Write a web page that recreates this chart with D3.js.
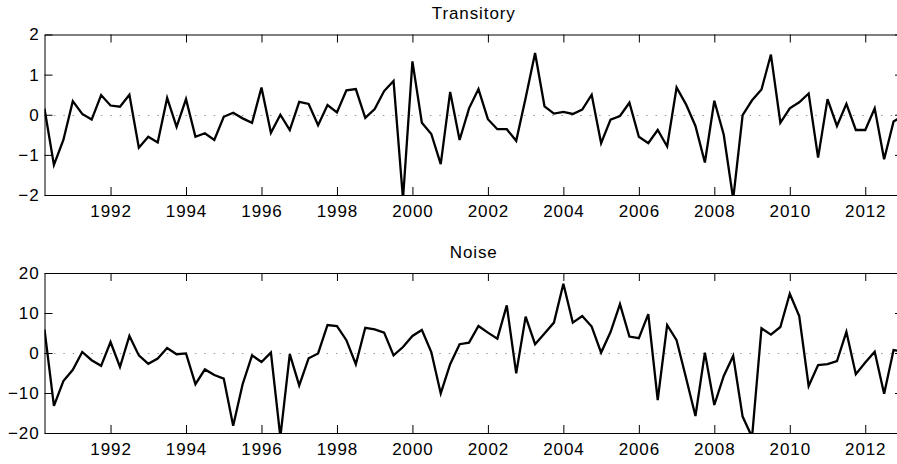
<!DOCTYPE html>
<html>
<head>
<meta charset="utf-8">
<script src="https://cdn.jsdelivr.net/npm/d3@7"></script>
<style>
  body { margin: 0; background: #fff; overflow: hidden; }
  svg { display: block; font-family: 'Liberation Sans', Arial, Helvetica, sans-serif; }
</style>
</head>
<body>
<div id="chart"></div>
<script>
// quarterly series, first point 1990Q2 (1990.25)
const startYear = 1990.25;
const endYear = 2013;

const transitory = [
    0.15, -1.25, -0.63,
    0.34, 0.02, -0.12, 0.49,
    0.23, 0.20, 0.50, -0.82,
    -0.55, -0.69, 0.42, -0.30,
    0.39, -0.55, -0.46, -0.63,
    -0.05, 0.05, -0.09, -0.20,
    0.68, -0.45, 0.00, -0.38,
    0.32, 0.27, -0.26, 0.24,
    0.06, 0.61, 0.64, -0.08,
    0.14, 0.59, 0.84, -2.10,
    1.33, -0.20, -0.48, -1.23,
    0.57, -0.63, 0.16, 0.64,
    -0.11, -0.36, -0.36, -0.65,
    0.42, 1.54, 0.21, 0.03,
    0.07, 0.02, 0.13, 0.50,
    -0.71, -0.12, -0.03, 0.30,
    -0.55, -0.71, -0.38, -0.79,
    0.68, 0.26, -0.28, -1.19,
    0.35, -0.50, -2.10, -0.01,
    0.36, 0.63, 1.50, -0.20,
    0.16, 0.31, 0.53, -1.07,
    0.39, -0.28, 0.27, -0.38,
    -0.38, 0.16, -1.11, -0.17,
    -0.02,
];

const noise = [
    5.9, -13.2, -7.0,
    -4.2, 0.25, -1.8, -3.2,
    2.75, -3.5, 4.25, -0.6,
    -2.7, -1.4, 1.25, -0.3,
    -0.1, -7.8, -4.1, -5.5,
    -6.4, -18.2, -7.8, -0.6,
    -2.25, 0.1, -21.0, -0.3,
    -8.1, -1.3, -0.1, 7.0,
    6.75, 3.2, -2.8, 6.3,
    5.9, 5.1, -0.6, 1.5,
    4.25, 5.75, 0.25, -10.1,
    -2.8, 2.2, 2.6, 6.75,
    5.1, 3.6, 11.9, -5.1,
    9.1, 2.2, 4.9, 7.6,
    17.3, 7.6, 9.25, 6.6,
    0.1, 5.25, 12.2, 4.1,
    3.7, 9.7, -11.75, 7.0,
    3.2, -6.2, -15.75, 0.1,
    -13.0, -5.75, -0.75, -15.9,
    -21.0, 6.2, 4.6, 6.5,
    14.8, 9.25, -8.25, -3.0,
    -2.8, -2.0, 5.3, -5.3,
    -2.4, 0.3, -10.2, 0.75,
    0.3,
];

const yearTicks = [1992, 1994, 1996, 1998, 2000, 2002, 2004, 2006, 2008, 2010, 2012];
const transitoryTicks = [-2, -1, 0, 1, 2];
const noiseTicks = [-20, -10, 0, 10, 20];

const width = 897;
const height = 464;
const plotLeft = 44.5;
const plotRight = 903; // axes box runs a little past the window edge

const svg = d3.select('#chart')
    .append('svg')
    .attr('width', width)
    .attr('height', height);

const x = d3.scaleLinear()
    .domain([startYear, endYear])
    .range([plotLeft, plotRight]);

const fmt = (d) => (d < 0 ? '\u2212' + Math.abs(d) : '' + d);

function drawPanel(id, title, values, yTicks, top, bottom, titleY) {
    const y = d3.scaleLinear()
        .domain([yTicks[0], yTicks[yTicks.length - 1]])
        .range([bottom, top]);

    const g = svg.append('g').attr('class', 'panel-' + id);

    g.append('clipPath')
        .attr('id', 'clip-' + id)
        .append('rect')
        .attr('x', plotLeft)
        .attr('y', top)
        .attr('width', plotRight - plotLeft)
        .attr('height', bottom - top);

    // dotted zero line
    g.append('line')
        .attr('x1', plotLeft)
        .attr('x2', plotRight)
        .attr('y1', Math.round(y(0)) + 0.5)
        .attr('y2', Math.round(y(0)) + 0.5)
        .style('stroke', '#9a9a9a')
        .style('stroke-width', 1)
        .style('stroke-dasharray', '1.5,7.9');

    const line = d3.line()
        .x((d, i) => x(startYear + i * 0.25))
        .y((d) => y(d));

    g.append('path')
        .datum(values)
        .attr('clip-path', 'url(#clip-' + id + ')')
        .attr('d', line)
        .style('fill', 'none')
        .style('stroke', '#000')
        .style('stroke-width', 2.3)
        .style('stroke-linejoin', 'miter');

    // ticks point inward on all four sides, like the matlab box
    const axes = [
        { axis: d3.axisBottom(x).tickValues(yearTicks), at: 'translate(0,' + bottom + ')', labels: true },
        { axis: d3.axisTop(x).tickValues(yearTicks), at: 'translate(0,' + top + ')', labels: false },
        { axis: d3.axisLeft(y).tickValues(yTicks), at: 'translate(' + plotLeft + ',0)', labels: true },
        { axis: d3.axisRight(y).tickValues(yTicks), at: 'translate(' + plotRight + ',0)', labels: false },
    ];

    axes.forEach((a, k) => {
        const ax = g.append('g')
            .attr('transform', a.at)
            .call(a.axis.tickSize(-8).tickSizeOuter(0).tickPadding(k === 0 ? 10 : 5)
                .tickFormat(a.labels ? fmt : ''));
        ax.select('.domain').style('stroke', '#000').style('stroke-width', 1);
        ax.selectAll('.tick line').style('stroke', '#000').style('stroke-width', 1);
        ax.selectAll('.tick text')
            .style('font-size', '17px')
            .style('letter-spacing', '0.9px')
            .style('fill', '#000');
    });

    g.append('text')
        .attr('x', (plotLeft + plotRight) / 2)
        .attr('y', titleY)
        .attr('text-anchor', 'middle')
        .style('font-size', '17px')
        .style('letter-spacing', '0.9px')
        .text(title);
}

drawPanel('transitory', 'Transitory', transitory, transitoryTicks, 34.5, 195, 18.5);
drawPanel('noise', 'Noise', noise, noiseTicks, 273, 433, 258);
</script>
</body>
</html>
